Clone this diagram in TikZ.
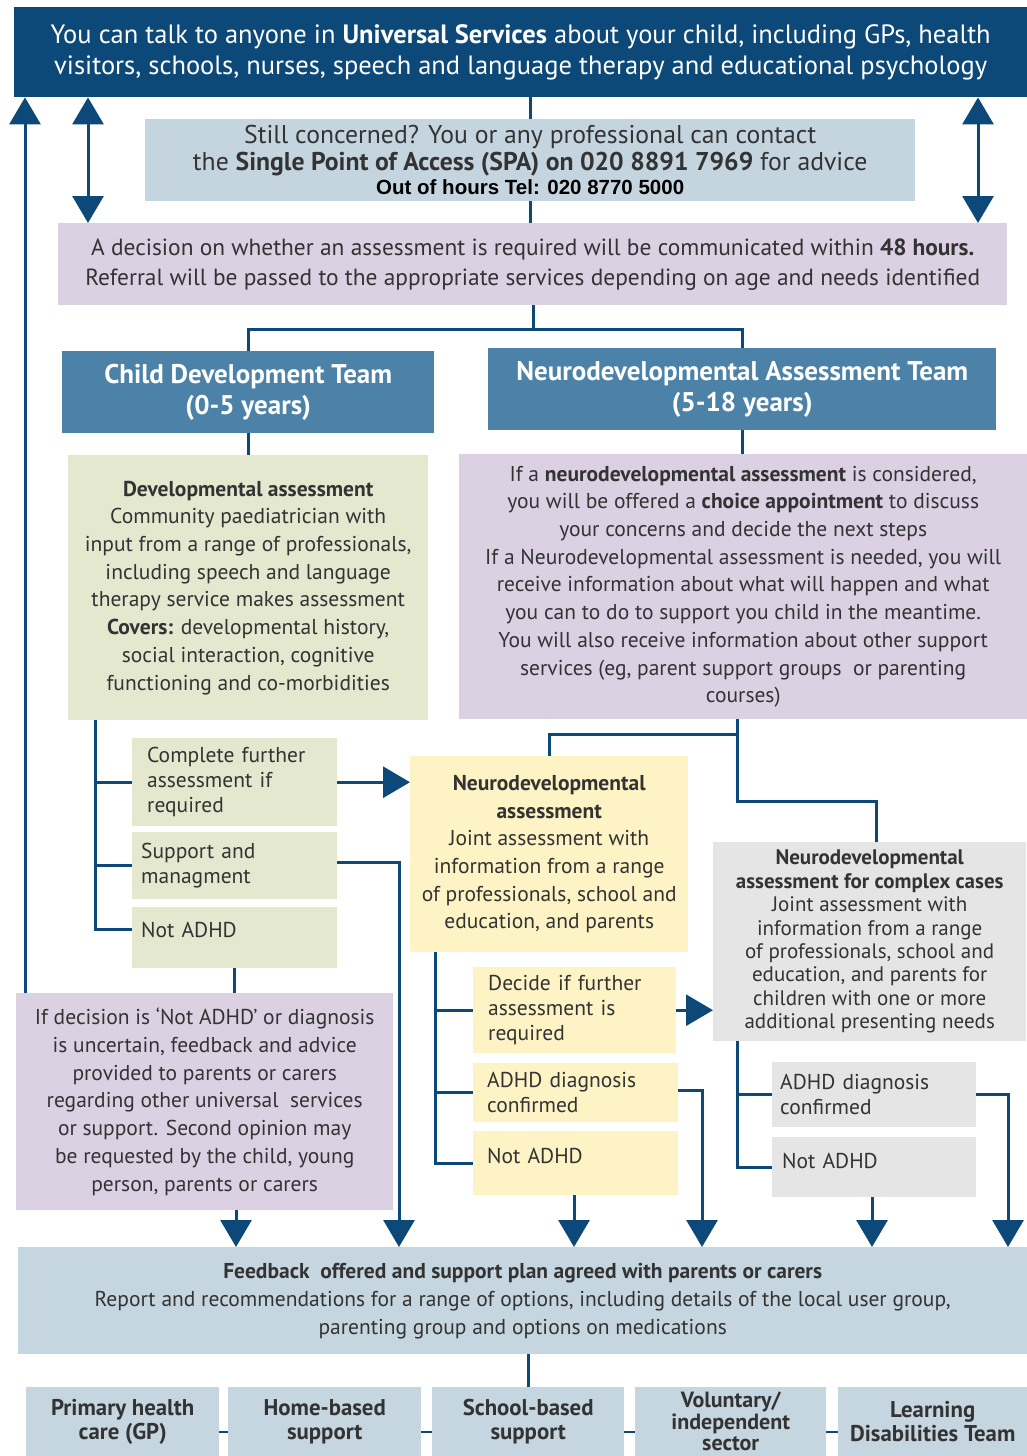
\documentclass[tikz,border=0pt]{standalone}
\usepackage{fontspec}
\setmainfont{PT Sans}
\newfontfamily\arialfont{Liberation Sans}
\usetikzlibrary{arrows.meta,calc}
\definecolor{navy}{RGB}{12,73,121}
\definecolor{spablue}{RGB}{197,213,223}
\definecolor{lav}{RGB}{220,209,227}
\definecolor{teamblue}{RGB}{76,130,168}
\definecolor{sage}{RGB}{228,232,206}
\definecolor{cream}{RGB}{254,243,196}
\definecolor{lgrey}{RGB}{229,229,229}
\definecolor{fbblue}{RGB}{198,214,225}
\definecolor{txt}{RGB}{51,51,51}
\tikzset{
  box/.style={anchor=north west, inner sep=0pt, align=center, text=txt},
  subbox/.style={anchor=north west, inner sep=0pt, align=left, text=txt},
  conn/.style={draw=navy, line width=3pt},
  arr/.style={conn, -{Triangle[width=31pt,length=27pt]}},
  darr/.style={conn, {Triangle[width=31pt,length=27pt]}-{Triangle[width=31pt,length=27pt]}},
  thin/.style={draw=navy, line width=2.5pt}
}
\newcommand{\bodyfs}{\fontsize{21.5}{27.7}\selectfont}
\newcommand{\subfs}{\fontsize{21.5}{25}\selectfont}
\begin{document}
\begin{tikzpicture}[x=1pt,y=-1pt]
\useasboundingbox[fill=white] (0,0) rectangle (1027,1456);

% top banner
\node[box, fill=navy, text=white, minimum width=1013pt, minimum height=90pt,
  font=\fontsize{26.5}{31}\selectfont] (top) at (14,7)
  {You can talk to anyone in \textbf{Universal Services} about your child, including GPs, health\\
   visitors, schools, nurses, speech and language therapy and educational psychology};

\node[box, fill=spablue, minimum width=770pt, minimum height=82pt,
  font=\fontsize{25.7}{27}\selectfont] (spa) at (145,119)
  {Still concerned? You or any professional can contact\\
   the \textbf{Single Point of Access (SPA) on 020 8891 7969} for advice\\[-3pt]
   {\arialfont\bfseries\fontsize{20.5}{22}\selectfont\color{black} Out of hours Tel: 020 8770 5000}};

\node[box, fill=lav, minimum width=949pt, minimum height=82pt,
  font=\fontsize{23.4}{30}\selectfont] (dec) at (58,223)
  {A decision on whether an assessment is required will be communicated within \textbf{48 hours.}\\
   Referral will be passed to the appropriate services depending on age and needs identified};

\node[box, fill=teamblue, text=white, minimum width=372pt, minimum height=82pt,
  font=\fontsize{27}{31}\selectfont\bfseries] (cdt) at (62,351)
  {Child Development Team\\(0-5 years)};
\node[box, fill=teamblue, text=white, minimum width=508pt, minimum height=82pt,
  font=\fontsize{27}{31}\selectfont\bfseries] (nat) at (488,348)
  {Neurodevelopmental Assessment Team\\(5-18 years)};

\node[box, fill=sage, minimum width=360pt, minimum height=265pt, font=\bodyfs] (dev) at (68,455)
  {\textbf{Developmental assessment}\\Community paediatrician with\\input from a range of professionals,\\
   including speech and language\\therapy service makes assessment\\\textbf{Covers:} developmental history,\\
   social interaction, cognitive\\functioning and co-morbidities};

\node[box, fill=lav, minimum width=568pt, minimum height=265pt, font=\bodyfs] (nap) at (459,454)
  {If a \textbf{neurodevelopmental assessment} is considered,\\
   you will be offered a \textbf{choice appointment} to discuss\\
   your concerns and decide the next steps\\
   If a Neurodevelopmental assessment is needed, you will\\
   receive information about what will happen and what\\
   you can to do to support you child in the meantime.\\
   You will also receive information about other support\\
   services (eg, parent support groups\ \ or parenting\\
   courses)};

% child development sub boxes
\node[subbox, fill=sage, minimum width=205pt, minimum height=88pt, text width=205pt, font=\subfs] (cf) at (132,738)
  {\hspace*{15pt}Complete further\\\hspace*{15pt}assessment if\\\hspace*{15pt}required};
\node[subbox, fill=sage, minimum width=205pt, minimum height=67pt, text width=205pt, font=\subfs] (sm) at (132,832)
  {\hspace*{9pt}Support and\\\hspace*{9pt}managment};
\node[subbox, fill=sage, minimum width=205pt, minimum height=61pt, text width=205pt, text depth=16pt, font=\subfs] (na1) at (132,907)
  {\hspace*{9pt}Not ADHD};

\node[box, fill=lav, minimum width=377pt, minimum height=217pt, font=\bodyfs] (lp) at (16,993)
  {If decision is ‘Not ADHD’ or diagnosis\\is uncertain, feedback and advice\\provided to parents or carers\\
   regarding other universal\ \ services\\or support. Second opinion may\\be requested by the child, young\\
   person, parents or carers};

% neurodevelopmental assessment
\node[box, fill=cream, minimum width=278pt, minimum height=196pt, font=\bodyfs] (yna) at (410,756)
  {\textbf{Neurodevelopmental}\\\textbf{assessment}\\Joint assessment with\\information from a range\\
   of professionals, school and\\education, and parents};

\node[box, fill=lgrey, minimum width=313pt, minimum height=199pt, font=\fontsize{21}{23.4}\selectfont] (cx) at (713,842)
  {\textbf{Neurodevelopmental}\\\textbf{assessment for complex cases}\\Joint assessment with\\information from a range\\
   of professionals, school and\\education, and parents for\\children with one or more\\additional presenting needs};

\node[subbox, fill=cream, minimum width=203pt, minimum height=86pt, text width=203pt, font=\subfs] (dfa) at (473,967)
  {\hspace*{15pt}Decide if further\\\hspace*{15pt}assessment is\\\hspace*{15pt}required};
\node[subbox, fill=cream, minimum width=205pt, minimum height=59pt, text width=205pt, font=\subfs] (yad) at (473,1063)
  {\hspace*{14pt}ADHD diagnosis\\\hspace*{14pt}confirmed};
\node[subbox, fill=cream, minimum width=205pt, minimum height=64pt, text width=205pt, text depth=14pt, font=\subfs] (yn) at (473,1131)
  {\hspace*{14pt}Not ADHD};

\node[subbox, fill=lgrey, minimum width=204pt, minimum height=65pt, text width=204pt, font=\subfs] (gad) at (772,1062)
  {\hspace*{8pt}ADHD diagnosis\\\hspace*{8pt}confirmed};
\node[subbox, fill=lgrey, minimum width=204pt, minimum height=60pt, text width=204pt, text depth=13pt, font=\subfs] (gn) at (772,1137)
  {\hspace*{10pt}Not ADHD};

% feedback
\node[box, fill=fbblue, minimum width=1009pt, minimum height=107pt, font=\fontsize{21.5}{28}\selectfont] (fb) at (18,1247)
  {\textbf{Feedback\ \ offered and support plan agreed with parents or carers}\\
   Report and recommendations for a range of options, including details of the local user group,\\
   parenting group and options on medications};

% bottom boxes
\tikzset{bot/.style={box, fill=fbblue, minimum height=69pt, font=\fontsize{22.8}{24}\selectfont\bfseries, text=txt}}
\node[bot, minimum width=193pt] (b1) at (26,1387) {Primary health\\care (GP)};
\node[bot, minimum width=193pt] (b2) at (228,1387) {Home-based\\support};
\node[bot, minimum width=192pt] (b3) at (432,1387) {School-based\\support};
\node[bot, minimum width=191pt, font=\fontsize{22}{21.5}\selectfont\bfseries] (b4) at (635,1387) {Voluntary/\\independent\\sector};
\node[bot, minimum width=189pt] (b5) at (838,1387) {Learning\\Disabilities Team};

% ---------- connectors ----------
\coordinate (fl) at (25,993);
\coordinate (dl) at (88,0);
\coordinate (dr) at (978,0);
\coordinate (j1) at (533,329);
\coordinate (dt) at (95,720);
\coordinate (j2) at (737,734);
\coordinate (j3) at (876,801);
\coordinate (yt) at (435,952);
\coordinate (gt) at (737,1041);
\coordinate (f1) at (236,1247);
\coordinate (f2) at (399,1247);
\coordinate (f3) at (574,1247);
\coordinate (f4) at (702,1247);
\coordinate (f5) at (872,1247);
\coordinate (f6) at (1008,1247);
\coordinate (bd) at (0,1432);

\draw[arr] (fl) -- (fl |- top.south);
\draw[darr] (dl |- top.south) -- (dl |- dec.north);
\draw[darr] (dr |- top.south) -- (dr |- dec.north);
\draw[conn] (spa.north) -- (spa.north |- top.south);
\draw[conn] (spa.south) -- (spa.south |- dec.north);
\draw[conn] (j1 |- dec.south) -- (j1);
\draw[conn] (cdt.north) -- (cdt.north |- j1) -- (nat.north |- j1) -- (nat.north);
\draw[conn] (cdt.south) -- (cdt.south |- dev.north);
\draw[conn] (nat.south) -- (nat.south |- nap.north);

% dev tree
\draw[conn] (dt) |- (cf.west);
\draw[conn] (dt) |- (sm.west);
\draw[conn] (dt) |- ($(na1.north west)+(0,22)$);
\draw[arr] (cf.east) -- (cf.east -| yna.west);
\draw[arr] ($(sm.east)+(0,-3)$) -| (f2);
\draw[conn] (na1.south) -- (na1.south |- lp.north);
\draw[arr] (f1 |- lp.south) -- (f1);

% NA branches
\draw[conn] (j2 |- nap.south) -- (j2) -- (j2 -| yna.north) -- (yna.north);
\draw[conn] (j2) |- (j3) -- (j3 |- cx.north);

% yellow tree
\draw[conn] (yt) |- (dfa.west);
\draw[conn] (yt) |- (yad.west);
\draw[conn] (yt) |- (yn.west);
\draw[arr] (dfa.east) -- (dfa.east -| cx.west);
\draw[arr] ($(yad.east)+(0,-2)$) -| (f4);
\draw[arr] (f3 |- yn.south) -- (f3);

% grey tree
\draw[conn] (gt) |- (gad.west);
\draw[conn] (gt) |- (gn.west);
\draw[arr] (gad.east) -| (f6);
\draw[arr] (f5 |- gn.south) -- (f5);

% feedback to services
\draw[conn] (fb.south -| b3.north) -- (b3.north);
\draw[thin] (b1.east |- bd) -- (b2.west |- bd);
\draw[thin] (b2.east |- bd) -- (b3.west |- bd);
\draw[thin] (b3.east |- bd) -- (b4.west |- bd);
\draw[thin] (b4.east |- bd) -- (b5.west |- bd);
\end{tikzpicture}
\end{document}
